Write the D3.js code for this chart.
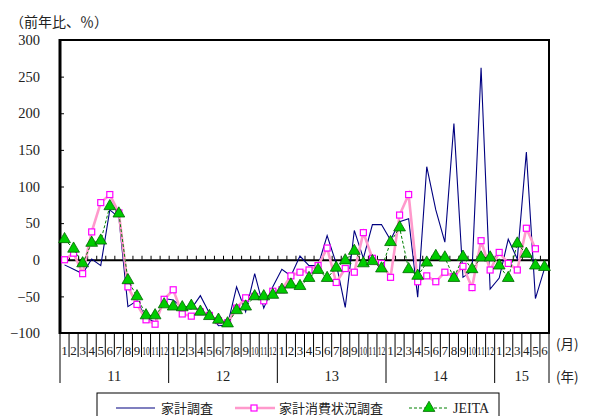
<!DOCTYPE html>
<html>
<head>
<meta charset="utf-8">
<script src="https://cdn.jsdelivr.net/npm/d3@7/dist/d3.min.js"></script>
<style>
  html, body { margin: 0; padding: 0; background: #fff; }
  svg { display: block; }
  .num { font-family: "Liberation Serif", "DejaVu Serif", serif; }
  .jp { font-family: "Noto Sans CJK JP", "Noto Sans", sans-serif; }
</style>
</head>
<body>
<svg id="chart" width="590" height="416"></svg>
<script>
// Year-on-year change (%), monthly, Jan 2011 – Jun 2015
const yearLabels = ["11", "12", "13", "14", "15"];
const monthsPerYear = [12, 12, 12, 12, 6];
const yTicks = [-100, -50, 0, 50, 100, 150, 200, 250, 300];

// 家計調査
const kakeiChosa = [
  -7, -13, -19, 1, -8, 68, 58, -64, -56, -80, -85, -53,
  -55, -65, -67, -49, -73, -90, -89, -37, -71, -19, -66, -37,
  -13, -22, 5, -8, -8, 33, -5, -65, 40, 2, 48, 48,
  27, 52, 56, -51, 127, 68, 24, 186, -24, -15, 262, -40,
  -25, 28, 1, 147, -53, -12
];
// 家計消費状況調査
const shohiJokyo = [
  0, 9, -19, 38, 78, 89, 64, -37, -61, -82, -88, -54,
  -41, -74, -77, -71, -76, -83, -86, -66, -52, -50, -56, -43,
  -41, -22, -17, -14, -8, 16, -31, -12, -17, 37, 2, -5,
  -24, 61, 89, -30, -22, -30, -17, -23, -9, -38, 26, -14,
  10, -5, -14, 43, 15, null
];
// JEITA
const jeita = [
  28, 15, -5, 23, 26, 73, 63, -28, -50, -76, -76, -61,
  -64, -65, -63, -71, -77, -82, -87, -69, -64, -50, -50, -48,
  -41, -34, -36, -25, -14, -25, -11, -1, 12, -5, -2, -12,
  24, 44, -13, -22, -4, 5, 3, -25, 4, -13, 3, 3,
  -8, -25, 22, 8, -8, -10
];

const monthLabels = [];
monthsPerYear.forEach(n => { for (let m = 1; m <= n; m++) monthLabels.push(String(m)); });
const N = monthLabels.length;

const svg = d3.select("#chart");
const L = 60, R = 549, T = 40, B = 333;

const x = d3.scaleBand().domain(d3.range(N)).range([L, R]).padding(0);
const xEdge = d3.scaleLinear().domain([0, N]).range([L, R]);
const y = d3.scaleLinear().domain([-100, 300]).range([B, T]);
const cx = i => x(i) + x.bandwidth() / 2;

// plot frame
svg.append("rect").attr("x", L).attr("y", T).attr("width", R - L).attr("height", B - T)
  .attr("fill", "none").attr("stroke", "#000").attr("stroke-width", 2);
svg.append("line").attr("x1", L).attr("x2", L).attr("y1", T - 1).attr("y2", B + 1)
  .attr("stroke", "#000").attr("stroke-width", 3);

// y axis
const yAxis = d3.axisLeft(y).tickValues(yTicks).tickSize(-4).tickPadding(20)
  .tickFormat(d => d < 0 ? "\u2212" + Math.abs(d) : String(d));
const gy = svg.append("g").attr("transform", `translate(${L},0)`).call(yAxis);
gy.attr("font-family", null).attr("font-size", null);
gy.select(".domain").remove();
gy.selectAll(".tick line").attr("stroke", "#000");
gy.selectAll(".tick text").attr("class", "num").attr("font-size", 14.5).attr("fill", "#222");

// zero line with month ticks
const zAxis = d3.axisTop(xEdge).tickValues(d3.range(1, N)).tickSize(4).tickSizeOuter(0).tickFormat("");
const gz = svg.append("g").attr("transform", `translate(0,${y(0)})`).call(zAxis);
gz.select(".domain").attr("stroke", "#000").attr("stroke-width", 2.2);
gz.selectAll(".tick line").attr("stroke", "#000");

// category axis below the plot: month labels, separators, year labels
const starts = [];
let acc = 0;
monthsPerYear.forEach(n => { starts.push(acc); acc += n; });
const yearEdges = starts.concat([N]);

const cat = svg.append("g");
cat.selectAll("line.m").data(d3.range(0, N + 1)).join("line")
  .attr("x1", d => xEdge(d)).attr("x2", d => xEdge(d))
  .attr("y1", B).attr("y2", d => yearEdges.includes(d) ? 383 : 357)
  .attr("stroke", "#000").attr("stroke-width", 1);
cat.selectAll("text.m").data(monthLabels).join("text")
  .attr("class", "num").attr("x", (d, i) => cx(i)).attr("y", 355)
  .attr("text-anchor", "middle").attr("font-size", 13).attr("fill", "#222")
  .each(function (d) {
    if (d.length > 1) d3.select(this).attr("textLength", 7.6).attr("lengthAdjust", "spacingAndGlyphs");
  })
  .text(d => d);
cat.selectAll("text.y").data(yearLabels).join("text")
  .attr("class", "num").attr("x", (d, i) => (xEdge(yearEdges[i]) + xEdge(yearEdges[i + 1])) / 2).attr("y", 381)
  .attr("text-anchor", "middle").attr("font-size", 14.5).attr("fill", "#222").text(d => d);

svg.append("text").attr("class", "jp").attr("x", 556).attr("y", 349)
  .attr("font-size", 13.5).attr("fill", "#222").text("(月)");
svg.append("text").attr("class", "jp").attr("x", 556).attr("y", 382)
  .attr("font-size", 13.5).attr("fill", "#222").text("(年)");
svg.append("text").attr("class", "jp").attr("x", 10).attr("y", 27)
  .attr("font-size", 14).attr("fill", "#222").text("（前年比、％）");

// series
const line = d3.line().defined(d => d != null).x((d, i) => cx(i)).y(d => y(d));
const plot = svg.append("g");

plot.append("path").datum(kakeiChosa).attr("d", line)
  .attr("fill", "none").attr("stroke", "#000080").attr("stroke-width", 1.1);

plot.append("path").datum(shohiJokyo).attr("d", line)
  .attr("fill", "none").attr("stroke", "#FF99CC").attr("stroke-width", 2.6);
plot.selectAll("rect.sq").data(shohiJokyo.map((v, i) => ({ v, i })).filter(d => d.v != null)).join("rect")
  .attr("x", d => cx(d.i) - 3).attr("y", d => y(d.v) - 3).attr("width", 6).attr("height", 6)
  .attr("fill", "#fff").attr("stroke", "#FF00FF").attr("stroke-width", 1.2);

plot.append("path").datum(jeita).attr("d", line)
  .attr("fill", "none").attr("stroke", "#008000").attr("stroke-width", 1).attr("stroke-dasharray", "3,2");
const tri = d3.symbol().type(d3.symbolTriangle).size(60);
plot.selectAll("path.tri").data(jeita).join("path")
  .attr("transform", (d, i) => `translate(${cx(i)},${y(d)})`).attr("d", tri)
  .attr("fill", "#00CC00").attr("stroke", "#006600").attr("stroke-width", 0.8);

// legend
const lg = svg.append("g");
lg.append("rect").attr("x", 97).attr("y", 393).attr("width", 402).attr("height", 30)
  .attr("fill", "#fff").attr("stroke", "#000").attr("stroke-width", 1);
const ly = 408;
lg.append("line").attr("x1", 116).attr("x2", 155).attr("y1", ly).attr("y2", ly)
  .attr("stroke", "#000080").attr("stroke-width", 1.1);
lg.append("text").attr("class", "jp").attr("x", 161).attr("y", ly + 5).attr("font-size", 13)
  .attr("fill", "#222").text("家計調査");
lg.append("line").attr("x1", 235).attr("x2", 275).attr("y1", ly).attr("y2", ly)
  .attr("stroke", "#FF99CC").attr("stroke-width", 2.6);
lg.append("rect").attr("x", 251).attr("y", ly - 3).attr("width", 6).attr("height", 6)
  .attr("fill", "#fff").attr("stroke", "#FF00FF").attr("stroke-width", 1.2);
lg.append("text").attr("class", "jp").attr("x", 279).attr("y", ly + 5).attr("font-size", 13)
  .attr("fill", "#222").text("家計消費状況調査");
lg.append("line").attr("x1", 409).attr("x2", 449).attr("y1", ly).attr("y2", ly)
  .attr("stroke", "#008000").attr("stroke-width", 1).attr("stroke-dasharray", "3,2");
lg.append("path").attr("transform", `translate(429,${ly})`).attr("d", tri)
  .attr("fill", "#00CC00").attr("stroke", "#006600").attr("stroke-width", 0.8);
lg.append("text").attr("class", "num").attr("x", 453).attr("y", ly + 5).attr("font-size", 14)
  .attr("fill", "#222").text("JEITA");
</script>
</body>
</html>
